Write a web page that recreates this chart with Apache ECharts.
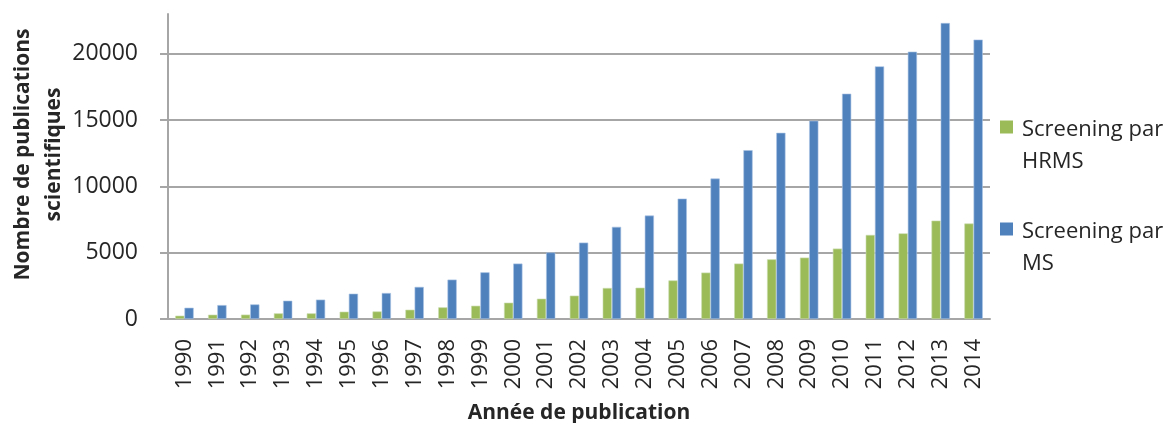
<!DOCTYPE html>
<html>
<head>
<meta charset="utf-8">
<script src="https://cdn.jsdelivr.net/npm/echarts@6/dist/echarts.min.js"></script>
<style>
  html, body { margin: 0; padding: 0; background: #fff; }
  #chart { width: 1171px; height: 423px; }
</style>
</head>
<body>
<div id="chart"></div>
<script>
// Publication counts per year
const years = ['1990','1991','1992','1993','1994','1995','1996','1997','1998','1999',
  '2000','2001','2002','2003','2004','2005','2006','2007','2008','2009',
  '2010','2011','2012','2013','2014'];
const hrms = [250, 325, 330, 425, 425, 550, 570, 700, 880, 1000,
  1230, 1530, 1760, 2340, 2360, 2910, 3500, 4180, 4500, 4630,
  5310, 6340, 6460, 7420, 7200];
const ms = [850, 1050, 1100, 1380, 1460, 1910, 1960, 2420, 2970, 3520,
  4180, 5020, 5760, 6950, 7800, 9080, 10590, 12730, 14040, 14950,
  16990, 19050, 20160, 22320, 21070];
const yTicks = [0, 5000, 10000, 15000, 20000];
const seriesNames = ['Screening par\nHRMS', 'Screening par\nMS'];

const FONT = 'Open Sans';
const TXT = '#262626';
const GRID_COL = '#a6a6a6';
// square on the first text line; the zero-area segment stretches the icon box to two lines
const legendIcon = 'path://M0,0h13v13h-13z M0,51h0.001';

const chart = echarts.init(document.getElementById('chart'), null, { renderer: 'canvas' });
chart.setOption({
  animation: false,
  textStyle: { fontFamily: FONT },
  grid: { left: 168, right: 181, top: 14, bottom: 104, containLabel: false, outerBoundsMode: 'none' },
  legend: {
    orient: 'vertical',
    left: 995,
    top: 109,
    itemWidth: 13,
    itemHeight: 51,
    itemGap: 38,
    icon: legendIcon,
    itemStyle: { borderWidth: 0 },
    textStyle: { fontFamily: FONT, fontSize: 22, color: TXT, lineHeight: 32, padding: [0, 0, 0, 4] },
    data: seriesNames
  },
  xAxis: {
    type: 'category',
    data: years,
    name: 'Année de publication',
    nameLocation: 'middle',
    nameGap: 84,
    nameMoveOverlap: false,
    nameTextStyle: { fontFamily: FONT, fontSize: 21, fontWeight: 'bold', color: TXT },
    axisLine: { lineStyle: { color: GRID_COL, width: 2 } },
    axisTick: { show: false },
    axisLabel: { rotate: 90, margin: 20, fontSize: 22, color: TXT, fontFamily: FONT, interval: 0 }
  },
  yAxis: {
    type: 'value',
    min: 0,
    max: 23000,
    name: 'Nombre de publications\nscientifiques',
    nameLocation: 'middle',
    nameGap: 98,
    nameMoveOverlap: false,
    nameTextStyle: { fontFamily: FONT, fontSize: 21, fontWeight: 'bold', color: TXT, lineHeight: 31, padding: [0, 0, 0, 24] },
    axisLine: { show: true, lineStyle: { color: GRID_COL, width: 2 } },
    axisTick: { show: true, length: 8, lineStyle: { color: GRID_COL, width: 2 }, customValues: yTicks },
    axisLabel: { fontSize: 23, color: TXT, fontFamily: FONT, margin: 30, customValues: yTicks, formatter: v => String(v) },
    splitLine: { show: true, lineStyle: { color: GRID_COL, width: 2 } }
  },
  series: [
    {
      name: seriesNames[0],
      type: 'bar',
      data: hrms,
      barWidth: '28%',
      barGap: '0%',
      itemStyle: { color: '#9bbb59', borderColor: '#c9dcae', borderWidth: 0.6 }
    },
    {
      name: seriesNames[1],
      type: 'bar',
      data: ms,
      barWidth: '28%',
      barGap: '0%',
      itemStyle: { color: '#4f81bd', borderColor: '#a9c2e2', borderWidth: 0.6 }
    }
  ]
});
</script>
</body>
</html>
